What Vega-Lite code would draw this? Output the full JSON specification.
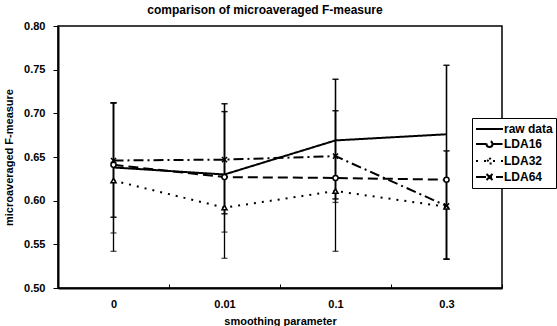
{
  "$schema": "https://vega.github.io/schema/vega-lite/v6.json",
  "autosize": "none",
  "width": 444,
  "height": 262,
  "padding": {"left": 58, "top": 26, "right": 55, "bottom": 38},
  "background": "white",
  "title": {"text": "comparison of microaveraged F-measure", "font": "Liberation Sans", "fontWeight": "bold", "fontSize": 12, "color": "black", "anchor": "middle", "offset": 3, "dx": -15},
  "config": {
    "view": {"stroke": "black", "strokeWidth": 1.5},
    "axis": {"labelFont": "Liberation Sans", "labelFontWeight": "bold", "labelFontSize": 11, "labelColor": "black", "titleFont": "Liberation Sans", "titleFontWeight": "bold", "titleFontSize": 11, "titleColor": "black", "domainColor": "black", "domainWidth": 2, "tickColor": "black", "grid": false}
  },
  "data": {"values": [
    {"x": "0", "series": "raw data", "v": 0.638, "lo": 0.563, "hi": 0.712},
    {"x": "0.01", "series": "raw data", "v": 0.630, "lo": 0.564, "hi": 0.702},
    {"x": "0.1", "series": "raw data", "v": 0.669, "lo": 0.598, "hi": 0.739},
    {"x": "0.3", "series": "raw data", "v": 0.676, "lo": 0.533, "hi": 0.755},
    {"x": "0", "series": "LDA16", "v": 0.641, "lo": 0.581, "hi": 0.712},
    {"x": "0.01", "series": "LDA16", "v": 0.627, "lo": 0.585, "hi": 0.711},
    {"x": "0.1", "series": "LDA16", "v": 0.626, "lo": 0.542, "hi": 0.703},
    {"x": "0.3", "series": "LDA16", "v": 0.624, "lo": 0.533, "hi": 0.657},
    {"x": "0", "series": "LDA32", "v": 0.623, "lo": 0.542, "hi": 0.712},
    {"x": "0.01", "series": "LDA32", "v": 0.592, "lo": 0.534, "hi": 0.711},
    {"x": "0.1", "series": "LDA32", "v": 0.611, "lo": 0.602, "hi": 0.703},
    {"x": "0.3", "series": "LDA32", "v": 0.593, "lo": 0.533, "hi": 0.657},
    {"x": "0", "series": "LDA64", "v": 0.646, "lo": 0.581, "hi": 0.712},
    {"x": "0.01", "series": "LDA64", "v": 0.647, "lo": 0.585, "hi": 0.702},
    {"x": "0.1", "series": "LDA64", "v": 0.651, "lo": 0.602, "hi": 0.739},
    {"x": "0.3", "series": "LDA64", "v": 0.594, "lo": 0.533, "hi": 0.755}
  ]},
  "encoding": {
    "x": {"field": "x", "type": "nominal", "sort": ["0", "0.01", "0.1", "0.3"],
      "scale": {"type": "band", "paddingInner": 0, "paddingOuter": 0},
      "axis": {"title": "smoothing parameter", "labelAngle": 0, "tickBand": "extent", "tickSize": -4, "labelPadding": 14, "titleY": 27}}
  },
  "layer": [
    {
      "mark": {"type": "rule", "color": "black", "strokeWidth": 1.3},
      "encoding": {
        "y": {"field": "lo", "type": "quantitative"},
        "y2": {"field": "hi"}
      }
    },
    {
      "mark": {"type": "tick", "color": "black", "size": 6, "thickness": 1.3},
      "encoding": {"y": {"field": "lo", "type": "quantitative"}}
    },
    {
      "mark": {"type": "tick", "color": "black", "size": 6, "thickness": 1.3},
      "encoding": {"y": {"field": "hi", "type": "quantitative"}}
    },
    {
      "mark": {"type": "line", "color": "black", "strokeWidth": 2},
      "encoding": {
        "y": {"field": "v", "type": "quantitative",
          "scale": {"domain": [0.5, 0.8], "nice": false, "zero": false},
          "axis": {"title": "microaveraged F-measure", "values": [0.5, 0.55, 0.6, 0.65, 0.7, 0.75, 0.8], "format": ".2f", "tickSize": 5, "labelPadding": 8, "titleX": -44}},
        "strokeDash": {"field": "series", "type": "nominal",
          "scale": {"domain": ["raw data", "LDA16", "LDA32", "LDA64"], "range": [[1, 0], [10, 5], [2, 6], [10, 4, 2, 4]]},
          "legend": {"title": null, "orient": "none", "legendX": 414, "legendY": 92, "fillColor": "white", "strokeColor": "black", "padding": 3, "symbolSize": 196, "symbolStrokeWidth": 2, "symbolStrokeColor": "black", "labelFont": "Liberation Sans", "labelFontWeight": "bold", "labelFontSize": 12, "labelColor": "black", "labelOffset": 13, "rowPadding": 1,
            "symbolType": "stroke",
            "encode": {"symbols": {"enter": {"strokeDash": {"signal": "datum.value === 'LDA32' ? [3, 3] : datum.value === 'LDA64' ? [12, 3, 2, 3] : [1, 0]"}}, "update": {
              "shape": {"signal": "datum.value === 'LDA16' ? 'M-1,0H0.5M1.36,0H2.86M1.36,0A0.43,0.43 0 1 1 0.5,0A0.43,0.43 0 1 1 1.36,0' : datum.value === 'LDA32' ? 'M-1,0H0.43M1.43,0H2.86M0.93,-0.45L1.43,0.35L0.43,0.35Z' : datum.value === 'LDA64' ? 'M-1,0H2.86M0.5,-0.43L1.36,0.43M0.5,0.43L1.36,-0.43' : 'M-1,0H2.86'"},
              "strokeDash": {"signal": "datum.value === 'LDA32' ? [3, 3] : datum.value === 'LDA64' ? [12, 3, 2, 3] : [1, 0]"},
              "fill": {"value": "white"}, "fillOpacity": {"value": 1}, "stroke": {"value": "black"}, "strokeWidth": {"value": 2}, "opacity": {"value": 1}}}}}
        }
      }
    },
    {
      "transform": [{"filter": "datum.series !== 'raw data'"}],
      "mark": {"type": "point", "filled": false, "fill": "white", "fillOpacity": 1, "stroke": "black", "strokeWidth": 1.5, "opacity": 1, "size": 26},
      "encoding": {
        "y": {"field": "v", "type": "quantitative"},
        "shape": {"field": "series", "type": "nominal",
          "scale": {"domain": ["LDA16", "LDA32", "LDA64"], "range": ["circle", "triangle-up", "M-1,-1L1,1M-1,1L1,-1"]},
          "legend": null}
      }
    }
  ]
}
